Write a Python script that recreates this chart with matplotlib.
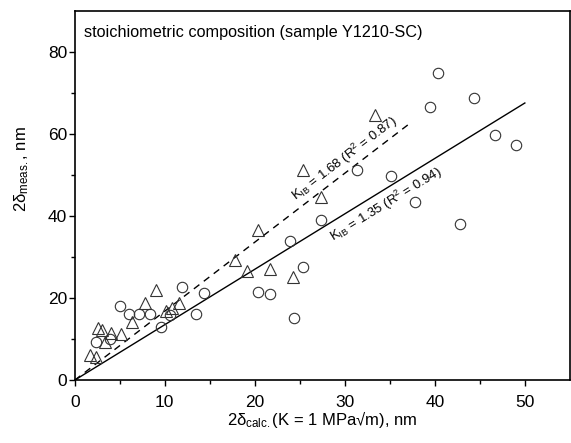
import numpy as np
import matplotlib.pyplot as plt

plt.rcParams['font.family'] = ['Liberation Sans', 'DejaVu Sans']
plt.rcParams['mathtext.fontset'] = 'custom'
plt.rcParams['mathtext.rm'] = 'Liberation Sans'
plt.rcParams['mathtext.it'] = 'Liberation Sans:italic'

# circles (open)
circ_x = [2.3, 3.9, 5.0, 6.0, 7.1, 8.4, 9.6, 10.6, 11.9, 13.5, 14.3, 20.4, 21.7,
          23.9, 24.4, 25.3, 27.4, 31.4, 35.1, 37.8, 39.5, 40.3, 42.8, 44.3, 46.7, 49.0]
circ_y = [9.2, 10.0, 18.0, 16.1, 16.2, 16.1, 13.0, 15.8, 22.7, 16.0, 21.1, 21.4, 20.9,
          33.9, 15.2, 27.5, 38.9, 51.2, 49.6, 43.5, 66.6, 74.9, 38.1, 68.8, 59.6, 57.2]

# triangles (open)
tri_x = [1.7, 2.3, 2.6, 3.0, 3.4, 4.0, 5.1, 6.3, 7.8, 9.0, 10.1, 10.8, 11.6,
         17.8, 19.1, 20.4, 21.7, 24.2, 25.3, 27.4, 33.4]
tri_y = [6.1, 5.7, 12.8, 12.1, 9.2, 11.4, 11.2, 14.2, 18.9, 21.9, 16.8, 17.6, 18.8,
         29.2, 26.6, 36.5, 27.0, 25.1, 51.3, 44.5, 64.6]

# fits
k_solid, x_solid = 1.35, [0, 50]
k_dash, x_dash = 1.68, [0, 37.2]

fig = plt.figure(figsize=(5.71, 4.43), dpi=100)
ax = fig.add_axes([0.131, 0.142, 0.867, 0.834])

ax.plot(x_solid, k_solid*np.array(x_solid), 'k-', lw=1.0)
ax.plot(x_dash, k_dash*np.array(x_dash), 'k--', lw=1.0, dashes=(5, 4))
ax.plot(circ_x, circ_y, 'o', mfc='none', mec='#333333', mew=0.8, ms=7.5)
ax.plot(tri_x, tri_y, '^', mfc='none', mec='#333333', mew=0.8, ms=8.5)

ax.set_xlim(0, 55)
ax.set_ylim(0, 90)
ax.set_xticks([0, 10, 20, 30, 40, 50])
ax.set_xticks(np.arange(5, 55, 10), minor=True)
ax.set_yticks([0, 20, 40, 60, 80])
ax.set_yticks([10, 30, 50, 70], minor=True)
ax.tick_params(which='major', direction='out', length=4.5, width=1.0, labelsize=12.5)
ax.tick_params(which='minor', direction='out', length=3, width=1.0)
ax.tick_params(axis='x', which='major', pad=6)
ax.tick_params(axis='y', which='major', pad=1)
for s in ax.spines.values():
    s.set_linewidth(1.2)

ax.set_xlabel('2$\\mathregular{\\delta_{calc.}}$(K = 1 MPa\u221am), nm', fontsize=12)
ax.set_ylabel('2$\\mathregular{\\delta_{meas.}}$, nm', fontsize=12)
ax.xaxis.set_label_coords(0.5, -0.078)
ax.yaxis.set_label_coords(-0.088, 0.57)

ax.text(0.018, 0.942, 'stoichiometric composition (sample Y1210-SC)',
        transform=ax.transAxes, fontsize=11.7, va='center', ha='left')

ax.text(30.6, k_dash*30.6 + 0.8, 'K$_{\\mathregular{IB}}$ = 1.68 (R$^{\\mathregular{2}}$ = 0.87)',
        rotation=np.degrees(np.arctan(k_dash)), transform_rotates_text=True,
        rotation_mode='anchor', ha='center', va='bottom', fontsize=9.5)
ax.text(34.0, k_solid*34.0 - 1.3, 'K$_{\\mathregular{IB}}$ = 1.35 (R$^{\\mathregular{2}}$ = 0.94)',
        rotation=np.degrees(np.arctan(k_solid)), transform_rotates_text=True,
        rotation_mode='anchor', ha='center', va='top', fontsize=9.5)

fig.savefig('out.png', dpi=100)
